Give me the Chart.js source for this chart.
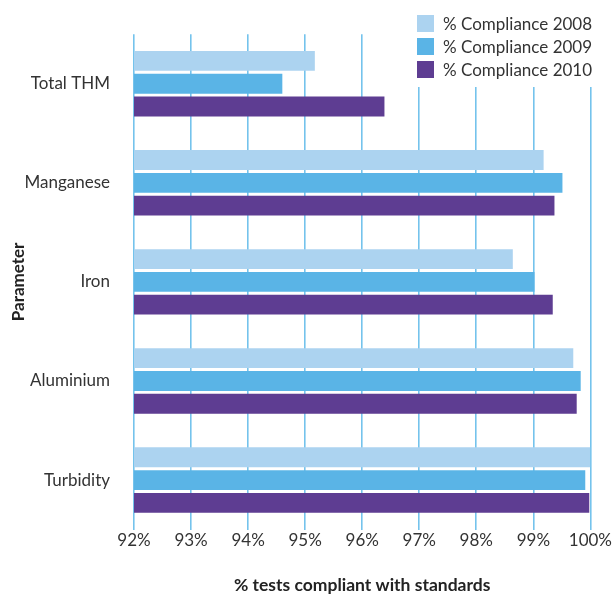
<!DOCTYPE html>
<html>
<head>
<meta charset="utf-8">
<script src="https://cdn.jsdelivr.net/npm/chart.js@4/dist/chart.umd.min.js"></script>
<style>
  html, body { margin: 0; padding: 0; background: #fff; }
  #wrap { position: relative; width: 613px; height: 596px; }
  #legend { position: absolute; left: 417px; top: 14px; background: #fff; padding: 0 6px 4px 0;
            font-family: Lato, "Noto Sans", sans-serif; font-size: 17px; color: #333; }
  #legend div { height: 23px; line-height: 19px; white-space: nowrap; }
  #legend span { display: inline-block; width: 17px; height: 17px; margin-right: 9px; vertical-align: -2px; }
</style>
</head>
<body>
<div id="wrap">
  <canvas id="chart1Vis"></canvas>
  <div id="legend"></div>
</div>
<script>
var categories = ["Total THM", "Manganese", "Iron", "Aluminium", "Turbidity"];
var seriesLabels = ["% Compliance 2008", "% Compliance 2009", "% Compliance 2010"];
var compliance2008 = [95.17, 99.18, 98.64, 99.70, 100.0];
var compliance2009 = [94.60, 99.51, 99.02, 99.83, 99.91];
var compliance2010 = [96.39, 99.37, 99.34, 99.76, 99.98];
var seriesColors = ["#acd3f0", "#5ab4e6", "#5e3d92"];

var ctx = document.getElementById("chart1Vis").getContext("2d");
ctx.canvas.width = 613;
ctx.canvas.height = 596;

var font = "Lato, 'Noto Sans', sans-serif";
var allSeries = [compliance2008, compliance2009, compliance2010];
var datasets = [];
for (var i = 0; i < allSeries.length; i++) {
    datasets.push({
        label: seriesLabels[i],
        data: allSeries[i],
        backgroundColor: seriesColors[i],
        categoryPercentage: 0.69,
        barPercentage: 0.87
    });
}

var myBarChart = new Chart(ctx, {
    type: 'bar',
    data: {
        labels: categories,
        datasets: datasets
    },
    options: {
        indexAxis: 'y',
        responsive: false,
        animation: false,
        layout: { padding: { top: 32, left: 8, right: 20, bottom: 0 } },
        plugins: {
            legend: { display: false },
            tooltip: { enabled: false }
        },
        scales: {
            x: {
                min: 92,
                max: 100,
                border: { display: false },
                grid: { color: "#74c3ec", lineWidth: 1.6, drawTicks: false },
                ticks: {
                    stepSize: 1,
                    padding: 1,
                    color: "#333",
                    font: { family: font, size: 17 },
                    callback: function(v) { return v + "%"; }
                },
                title: {
                    display: true,
                    text: "% tests compliant with standards",
                    color: "#222",
                    font: { family: font, size: 17.5, weight: "bold" },
                    padding: { top: 23, bottom: 0 }
                }
            },
            y: {
                border: { display: false },
                grid: { display: false, drawTicks: false },
                afterFit: function(scale) { scale.width = 126; },
                ticks: {
                    padding: 24,
                    color: "#333",
                    font: { family: font, size: 17 }
                },
                title: {
                    display: true,
                    text: "Parameter",
                    color: "#222",
                    font: { family: font, size: 17, weight: "bold" },
                    padding: 0
                }
            }
        }
    }
});

var legend = document.getElementById("legend");
myBarChart.data.datasets.forEach(function(ds) {
    var row = document.createElement("div");
    var box = document.createElement("span");
    box.style.background = ds.backgroundColor;
    row.appendChild(box);
    row.appendChild(document.createTextNode(ds.label));
    legend.appendChild(row);
});
</script>
</body>
</html>
